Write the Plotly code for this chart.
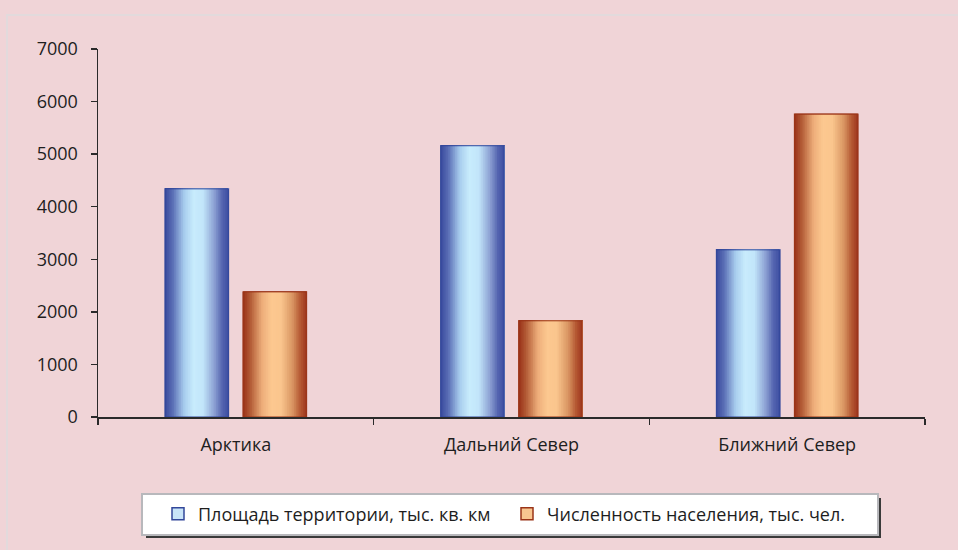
import plotly.graph_objects as go

# ---- data ----
categories = ["Арктика", "Дальний Север", "Ближний Север"]
area = [4340, 5160, 3180]          # Площадь территории, тыс. кв. км
population = [2380, 1830, 5760]    # Численность населения, тыс. чел.
series_names = ["Площадь территории, тыс. кв. км", "Численность населения, тыс. чел."]
y_ticks = [0, 1000, 2000, 3000, 4000, 5000, 6000, 7000]

# ---- style ----
W, H = 958, 550
ML, MR, MT, MB = 98, 33, 49, 133
PW, PH = W - ML - MR, H - MT - MB
BG = "#f0d4d7"
FONT = "Open Sans"
TXT = "#1e1e1e"
AX = "#2a2a2a"
FS = 18

bar_w = 0.229      # bar width as fraction of category
inner_gap = 0.054  # gap between the two bars of a group
starts = [-(bar_w + inner_gap / 2), inner_gap / 2]

blue_stops = [(0.0, "#3a4b9e"), (0.12, "#5b6fb6"), (0.3, "#a8cdee"),
              (0.45, "#c8ecfc"), (0.6, "#c2e5fa"), (0.78, "#8b9fd2"),
              (0.9, "#5565b0"), (1.0, "#3d4ea2")]
orange_stops = [(0.0, "#9a3218"), (0.12, "#b45e38"), (0.3, "#eeae7a"),
                (0.45, "#fcc890"), (0.6, "#fac58d"), (0.78, "#d99562"),
                (0.9, "#b65a34"), (1.0, "#9e361e")]
edge_cols = ["#32479a", "#9a3418"]
base_cols = ["#c8e4f8", "#f8c690"]


def hex2rgb(h):
    h = h.lstrip("#")
    return tuple(int(h[i:i + 2], 16) for i in (0, 2, 4))


def interp(stops, t):
    for (t0, c0), (t1, c1) in zip(stops[:-1], stops[1:]):
        if t0 <= t <= t1:
            f = (t - t0) / (t1 - t0) if t1 > t0 else 0
            a, b = hex2rgb(c0), hex2rgb(c1)
            return "rgb(%d,%d,%d)" % tuple(round(a[i] + (b[i] - a[i]) * f) for i in range(3))
    return stops[-1][1]


fig = go.Figure()
N = 36
for s, (vals, stops) in enumerate([(area, blue_stops), (population, orange_stops)]):
    x0 = starts[s]
    # base trace (carries legend swatch)
    fig.add_trace(go.Bar(
        x=categories, y=vals, name=series_names[s],
        offset=x0, width=bar_w,
        marker=dict(color=base_cols[s], line=dict(color=edge_cols[s], width=1.5)),
        showlegend=True, hoverinfo="skip"))
    # gradient strips, each strip runs to the right edge so no seams appear
    for i in range(N):
        t0 = i / N
        col = interp(stops, (i + 0.5) / N)
        fig.add_trace(go.Bar(
            x=categories, y=vals, offset=x0 + t0 * bar_w, width=bar_w * (1 - t0),
            marker=dict(color=col, line=dict(width=0)),
            showlegend=False, hoverinfo="skip"))
    # outline on top
    fig.add_trace(go.Bar(
        x=categories, y=vals, offset=x0, width=bar_w,
        marker=dict(color="rgba(0,0,0,0)", line=dict(color=edge_cols[s], width=1)),
        showlegend=False, hoverinfo="skip"))


def px_x(px):
    return (px - ML) / PW


def px_y(py):
    return (H - MB - py) / PH


shapes = [
    # faint chart-area frame
    dict(type="rect", xref="paper", yref="paper",
         x0=px_x(7), x1=px_x(990), y0=px_y(600), y1=px_y(15),
         line=dict(color="#e2dadc", width=2), fillcolor="rgba(0,0,0,0)", layer="below"),
    # legend shadow
    dict(type="rect", xref="paper", yref="paper",
         x0=px_x(146), x1=px_x(881), y0=px_y(538), y1=px_y(498),
         line=dict(width=0), fillcolor="#3a3a3a", layer="above"),
    # legend box
    dict(type="rect", xref="paper", yref="paper",
         x0=px_x(142), x1=px_x(878), y0=px_y(535), y1=px_y(494),
         line=dict(color="#b8b8bc", width=2), fillcolor="#ffffff", layer="above"),
]

fig.update_layout(
    width=W, height=H,
    margin=dict(l=ML, r=MR, t=MT, b=MB, pad=0),
    paper_bgcolor=BG, plot_bgcolor=BG,
    barmode="overlay",
    font=dict(family=FONT, size=FS, color=TXT),
    shapes=shapes,
    showlegend=True,
    legend=dict(orientation="h", x=px_x(158), xanchor="left",
                y=px_y(514), yanchor="middle",
                bgcolor="rgba(0,0,0,0)", borderwidth=0,
                entrywidth=304, entrywidthmode="pixels",
                font=dict(family=FONT, size=FS, color=TXT),
                itemclick=False, itemdoubleclick=False),
    xaxis=dict(type="category", categoryorder="array", categoryarray=categories,
               range=[-0.5, 2.5], showgrid=False, zeroline=False,
               showline=True, linecolor=AX, linewidth=1.5,
               ticks="outside", tickson="boundaries", ticklen=6, tickwidth=1.5,
               tickcolor=AX, ticklabelstandoff=11,
               tickfont=dict(family=FONT, size=FS, color=TXT)),
    yaxis=dict(range=[0, 7000], tickvals=y_ticks, showgrid=False, zeroline=False,
               showline=True, linecolor=AX, linewidth=1.5,
               ticks="outside", ticklen=6, tickwidth=1.5, tickcolor=AX,
               ticklabelstandoff=9,
               tickfont=dict(family=FONT, size=FS, color=TXT)),
)

fig.write_html("out.html",
               config={"displayModeBar": False, "staticPlot": True},
               post_script="document.body.style.margin='0';document.body.style.overflow='hidden';")
